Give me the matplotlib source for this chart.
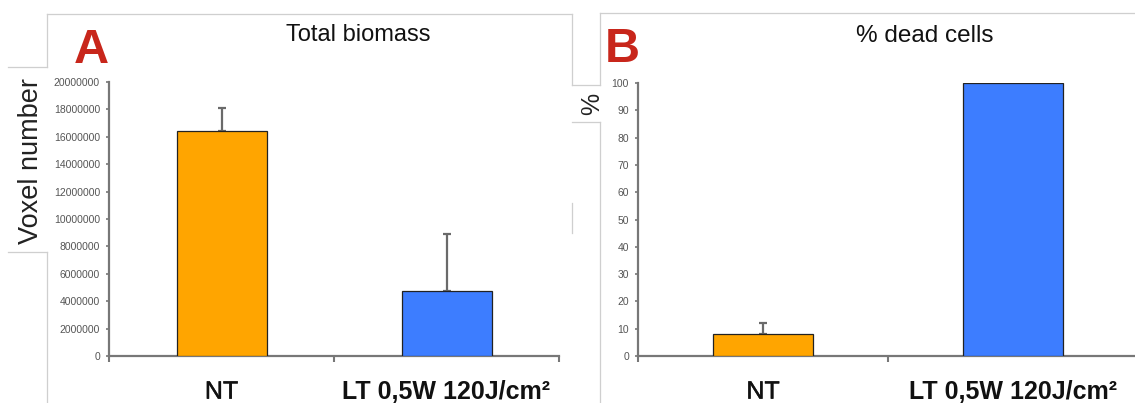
import matplotlib.pyplot as plt
import matplotlib.patheffects as pe
from matplotlib.lines import Line2D
import numpy as np

plt.rcParams['font.family'] = ['Liberation Sans', 'DejaVu Sans']

# data
groups = ['NT', 'LT 0,5W 120J/cm²']
bar_colors = ['#FFA500', '#3D7DFF']
biomass = [16400000, 4750000]
biomass_sd = [1700000, 4150000]
dead_pct = [8, 100]
dead_sd = [4, 0]

W, H = 1135, 403
fig = plt.figure(figsize=(W / 100, H / 100), dpi=100)


def px(x, y):
    # pixel coords -> figure fraction
    return x / W, 1 - y / H


def seg(x0, y0, x1, y1, color='#cfcfcf', lw=0.9):
    a = px(x0, y0)
    b = px(x1, y1)
    fig.add_artist(Line2D([a[0], b[0]], [a[1], b[1]], color=color, lw=lw))


def draw_panel(ax, values, sd, ymax, yticks):
    xs = np.arange(len(values)) + 0.5
    ax.bar(xs, values, width=0.4, color=bar_colors, edgecolor='#222222',
           linewidth=0.9, zorder=3)
    for x, v, e in zip(xs, values, sd):
        if e > 0:
            ax.errorbar([x], [v], yerr=[[0], [e]], fmt='none', ecolor='#6a6a6a',
                        elinewidth=1.6, capsize=3, capthick=1.6, zorder=2)
    ax.set_xlim(0, len(values))
    ax.set_ylim(0, ymax)
    ax.set_yticks(yticks)
    ax.set_yticklabels([str(int(t)) for t in yticks])
    ax.set_xticks(np.arange(len(values) + 1))
    ax.set_xticklabels([])
    ax.set_xticks(xs, minor=True)
    ax.set_xticklabels(groups, minor=True)
    labs = ax.get_xticklabels(minor=True)
    # NT looks medium weight, the treatment label is bold
    labs[0].set_path_effects([pe.withStroke(linewidth=0.35, foreground='#111111')])
    labs[1].set_fontweight('bold')
    ax.tick_params(axis='x', which='major', direction='out', length=4,
                   width=1.5, color='#777777')
    ax.tick_params(axis='x', which='minor', length=0, pad=17, labelsize=18,
                   labelcolor='#111111')
    ax.tick_params(axis='y', direction='out', length=2.5, width=1.2,
                   color='#777777', labelsize=7.5, labelcolor='#555555', pad=4)
    for s in ['top', 'right']:
        ax.spines[s].set_visible(False)
    for s in ['left', 'bottom']:
        ax.spines[s].set_color('#777777')
        ax.spines[s].set_linewidth(1.6)


# panel A
axA = fig.add_axes([109 / W, 1 - 356 / H, 450 / W, 274 / H])
draw_panel(axA, biomass, biomass_sd, 20000000, np.arange(0, 20000001, 2000000))

# panel B
axB = fig.add_axes([638 / W, 1 - 356 / H, 500 / W, 273 / H])
draw_panel(axB, dead_pct, dead_sd, 100, np.arange(0, 101, 10))

# panel frames (light gray boxes from the composite figure)
seg(47, 14, 572, 14)
seg(47, 14, 47, 67)
seg(47, 252, 47, 403)
seg(8, 67, 47, 67)
seg(8, 252, 47, 252)
seg(572, 14, 572, 85)
seg(572, 85, 600, 85)
seg(572, 122, 600, 122)
seg(572, 203, 572, 233)
seg(600, 13, 1135, 13)
seg(600, 13, 600, 85)
seg(600, 122, 600, 403)

# titles and labels
red = '#C8261B'
fig.text(*px(74, 63), 'A', color=red, fontsize=35, fontweight='bold',
         ha='left', va='baseline')
fig.text(*px(605, 62), 'B', color=red, fontsize=35, fontweight='bold',
         ha='left', va='baseline')
fig.text(*px(358, 41), 'Total biomass', fontsize=17, ha='center',
         va='baseline', color='#111111')
fig.text(*px(925, 42), '% dead cells', fontsize=17.5, ha='center',
         va='baseline', color='#111111')
fig.text(*px(31, 161), 'Voxel number', fontsize=19.5, rotation=90,
         ha='center', va='center', color='#222222')
fig.text(*px(592, 104), '%', fontsize=18, rotation=90,
         ha='center', va='center', color='#222222')

plt.savefig('out.png', dpi=100)
